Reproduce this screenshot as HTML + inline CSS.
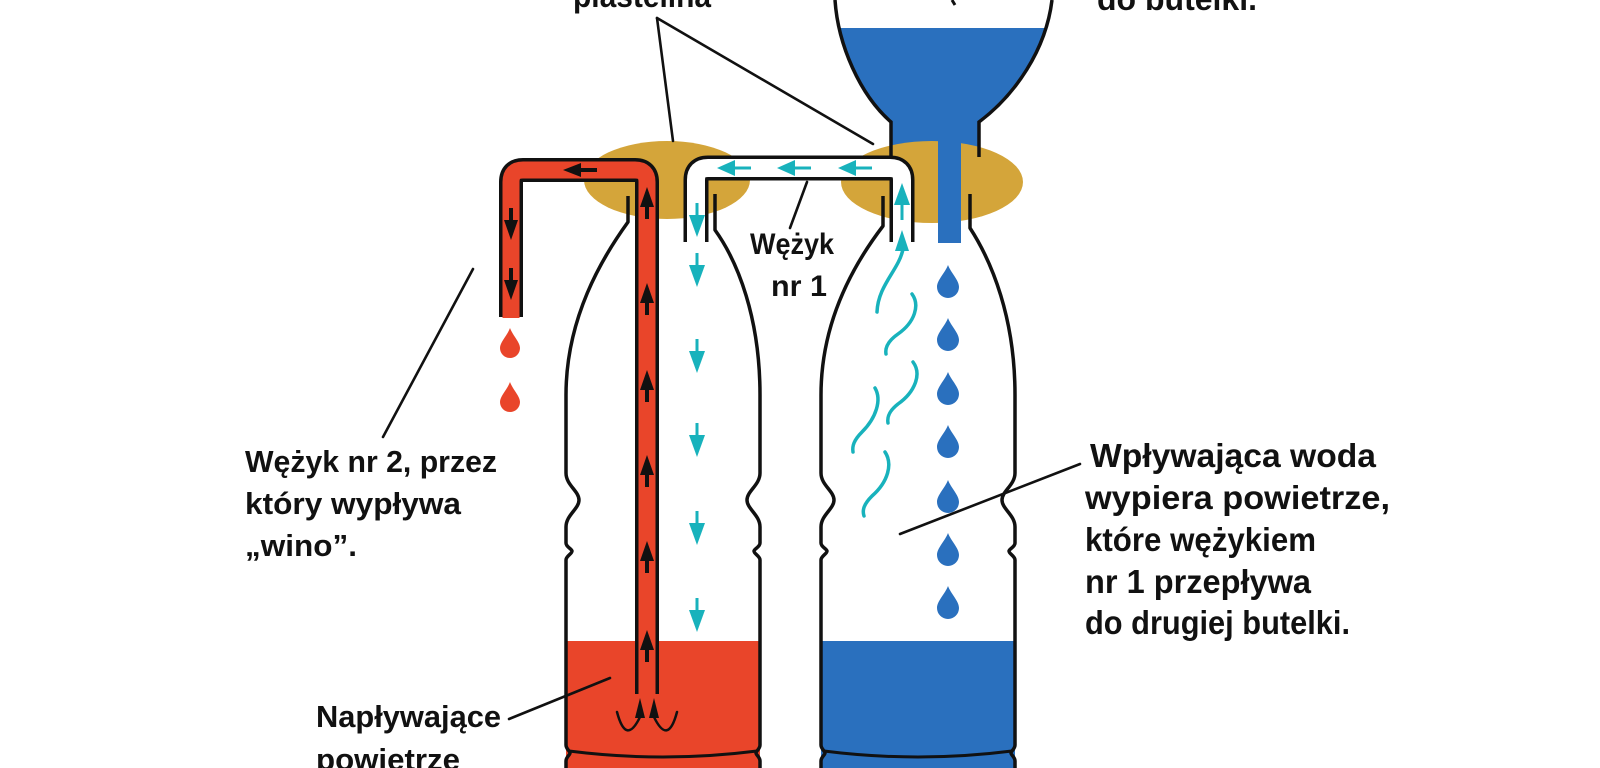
<!DOCTYPE html>
<html>
<head>
<meta charset="utf-8">
<style>
  html,body{margin:0;padding:0;background:#fff;}
  svg{display:block;}
  text{font-family:"Liberation Sans",Arial,sans-serif;font-weight:bold;fill:#111;}
</style>
</head>
<body>
<svg width="1600" height="768" viewBox="0 0 1600 768" xmlns="http://www.w3.org/2000/svg">
  <rect width="1600" height="768" fill="#fff"/>
  <defs>
    <clipPath id="fun">
      <path d="M835,0 C838,45 860,95 891,122 L891,170 L979,170 L979,122 C1015,95 1046,50 1052,0 Z"/>
    </clipPath>
  </defs>

  <!-- funnel water -->
  <rect x="820" y="28" width="240" height="150" fill="#2a70be" clip-path="url(#fun)"/>

  <!-- liquid at bottoms -->
  <rect x="566" y="641" width="194" height="127" fill="#e9452a"/>
  <rect x="821" y="641" width="194" height="127" fill="#2a70be"/>

  <!-- plasticine -->
  <ellipse cx="667" cy="180" rx="83" ry="39" fill="#d4a53a"/>
  <ellipse cx="932" cy="182" rx="91" ry="41" fill="#d4a53a"/>

  <!-- narrow water tube -->
  <rect x="938" y="140" width="23" height="103" fill="#2a70be"/>

  <!-- funnel outlines -->
  <g fill="none" stroke="#111" stroke-width="3.5">
    <path d="M835,0 C838,45 860,95 891,122 L891,157"/>
    <path d="M1052,0 C1046,50 1015,95 979,122 L979,157"/>
  </g>
  <line x1="952" y1="0" x2="955" y2="5" stroke="#111" stroke-width="3"/>

  <!-- bottle outlines -->
  <g fill="none" stroke="#111" stroke-width="3.5" stroke-linejoin="round">
    <path d="M628,196 L628,222 C602,258 566,318 566,395 L566,473 C566,485 579,491 579,500 C579,509 566,515 566,527 L566,543 C566,547 572,549 572,551 C572,554 566,556 566,560 L566,745 C566,749 570,751 570,753 C570,755 566,757 566,761 L566,768"/>
    <path d="M715,194 L715,230 C738,262 760,318 760,395 L760,473 C760,485 747,491 747,500 C747,509 760,515 760,527 L760,543 C760,547 754,549 754,551 C754,554 760,556 760,560 L760,745 C760,749 756,751 756,753 C756,755 760,757 760,761 L760,768"/>
    <path d="M883,196 L883,226 C857,260 821,318 821,395 L821,473 C821,485 834,491 834,500 C834,509 821,515 821,527 L821,543 C821,547 827,549 827,551 C827,554 821,556 821,560 L821,745 C821,749 825,751 825,753 C825,755 821,757 821,761 L821,768"/>
    <path d="M970,194 L970,228 C992,262 1015,318 1015,395 L1015,473 C1015,485 1002,491 1002,500 C1002,509 1015,515 1015,527 L1015,543 C1015,547 1009,549 1009,551 C1009,554 1015,556 1015,560 L1015,745 C1015,749 1011,751 1011,753 C1011,755 1015,757 1015,761 L1015,768"/>
    <path d="M569,751 Q663,763 757,751" stroke-width="3"/>
    <path d="M824,751 Q918,763 1012,751" stroke-width="3"/>
  </g>

  <!-- red tube (nr 2) -->
  <path d="M511,317 L511,182 Q511,170 523,170 L635,170 Q647,170 647,182 L647,694" fill="none" stroke="#111" stroke-width="24"/>
  <path d="M511,318 L511,182 Q511,170 523,170 L635,170 Q647,170 647,182 L647,695" fill="none" stroke="#e9452a" stroke-width="17"/>

  <!-- cyan tube (nr 1) -->
  <path d="M696,242 L696,180 Q696,168 708,168 L890,168 Q902,168 902,180 L902,242" fill="none" stroke="#111" stroke-width="25"/>
  <path d="M696,243 L696,180 Q696,168 708,168 L890,168 Q902,168 902,180 L902,243" fill="none" stroke="#fff" stroke-width="18"/>

  <!-- black arrows in red tube -->
  <g fill="#111">
    <polygon points="563,170 581,163 581,177"/><rect x="579" y="168" width="18" height="4"/>
    <polygon points="511,240 504,220 518,220"/><rect x="509" y="208" width="4" height="14"/>
    <polygon points="511,300 504,280 518,280"/><rect x="509" y="268" width="4" height="14"/>
    <polygon points="647,187 640,207 654,207"/><rect x="645" y="205" width="4" height="14"/>
    <polygon points="647,283 640,303 654,303"/><rect x="645" y="301" width="4" height="14"/>
    <polygon points="647,370 640,390 654,390"/><rect x="645" y="388" width="4" height="14"/>
    <polygon points="647,455 640,475 654,475"/><rect x="645" y="473" width="4" height="14"/>
    <polygon points="647,541 640,561 654,561"/><rect x="645" y="559" width="4" height="14"/>
    <polygon points="647,630 640,650 654,650"/><rect x="645" y="648" width="4" height="14"/>
    <polygon points="640,698 635,718 645,718"/>
    <polygon points="654,698 649,718 659,718"/>
  </g>
  <g fill="none" stroke="#111" stroke-width="2.5" stroke-linecap="round">
    <path d="M617,712 Q626,746 640,717"/>
    <path d="M677,712 Q668,746 654,717"/>
  </g>

  <!-- red drops -->
  <g fill="#e9452a">
    <path d="M510,328 C513,336 520,342 520,348 A10,10 0 0 1 500,348 C500,342 507,336 510,328 Z"/>
    <path d="M510,382 C513,390 520,396 520,402 A10,10 0 0 1 500,402 C500,396 507,390 510,382 Z"/>
  </g>

  <!-- cyan arrows -->
  <g fill="#18b2bc">
    <polygon points="717,168 735,160 735,176"/><rect x="733" y="166.5" width="18" height="3"/>
    <polygon points="777,168 795,160 795,176"/><rect x="793" y="166.5" width="18" height="3"/>
    <polygon points="838,168 856,160 856,176"/><rect x="854" y="166.5" width="18" height="3"/>
    <polygon points="697,237 689,215 705,215"/><rect x="695.5" y="203" width="3" height="14"/>
    <polygon points="697,287 689,265 705,265"/><rect x="695.5" y="253" width="3" height="14"/>
    <polygon points="697,373 689,351 705,351"/><rect x="695.5" y="339" width="3" height="14"/>
    <polygon points="697,457 689,435 705,435"/><rect x="695.5" y="423" width="3" height="14"/>
    <polygon points="697,545 689,523 705,523"/><rect x="695.5" y="511" width="3" height="14"/>
    <polygon points="697,632 689,610 705,610"/><rect x="695.5" y="598" width="3" height="14"/>
    <polygon points="902,183 894,205 910,205"/><rect x="900.5" y="203" width="3" height="17"/>
    <polygon points="902,230 895,251 909,251"/>
  </g>
  <g fill="none" stroke="#18b2bc" stroke-width="3.5" stroke-linecap="round">
    <path d="M903,249 C899,270 878,285 877,312"/>
    <path d="M912,294 C920,305 915,322 898,334 C888,341 885,348 886,354"/>
    <path d="M913,362 C922,374 915,392 898,404 C889,411 887,417 888,423"/>
    <path d="M875,388 C882,400 876,418 862,432 C854,440 852,446 853,452"/>
    <path d="M885,452 C893,464 888,482 872,496 C864,504 862,510 864,516"/>
  </g>

  <!-- blue drops -->
  <g fill="#2a70be">
    <path d="M948,265 C951,273 959,280 959,287 A11,11 0 0 1 937,287 C937,280 945,273 948,265 Z"/>
    <path d="M948,318 C951,326 959,333 959,340 A11,11 0 0 1 937,340 C937,333 945,326 948,318 Z"/>
    <path d="M948,372 C951,380 959,387 959,394 A11,11 0 0 1 937,394 C937,387 945,380 948,372 Z"/>
    <path d="M948,425 C951,433 959,440 959,447 A11,11 0 0 1 937,447 C937,440 945,433 948,425 Z"/>
    <path d="M948,480 C951,488 959,495 959,502 A11,11 0 0 1 937,502 C937,495 945,488 948,480 Z"/>
    <path d="M948,533 C951,541 959,548 959,555 A11,11 0 0 1 937,555 C937,548 945,541 948,533 Z"/>
    <path d="M948,586 C951,594 959,601 959,608 A11,11 0 0 1 937,608 C937,601 945,594 948,586 Z"/>
  </g>

  <!-- connector lines -->
  <g stroke="#111" stroke-width="2.6" stroke-linecap="round" fill="none">
    <line x1="657" y1="18" x2="673" y2="141"/>
    <line x1="657" y1="18" x2="873" y2="144"/>
    <line x1="790" y1="228" x2="807" y2="182"/>
    <line x1="383" y1="437" x2="473" y2="269"/>
    <line x1="1080" y1="464" x2="900" y2="534"/>
    <line x1="509" y1="719" x2="610" y2="678"/>
  </g>

  <!-- labels -->
  <text x="573" y="7" font-size="32" textLength="138" lengthAdjust="spacingAndGlyphs">plastelina</text>
  <text x="1097" y="10" font-size="32" textLength="160" lengthAdjust="spacingAndGlyphs">do butelki.</text>

  <text x="750" y="254" font-size="30" textLength="84" lengthAdjust="spacingAndGlyphs">Wężyk</text>
  <text x="771" y="296" font-size="30" textLength="56" lengthAdjust="spacingAndGlyphs">nr 1</text>

  <text x="245" y="472" font-size="31" textLength="252" lengthAdjust="spacingAndGlyphs">Wężyk nr 2, przez</text>
  <text x="245" y="514" font-size="31" textLength="216" lengthAdjust="spacingAndGlyphs">który wypływa</text>
  <text x="245" y="556" font-size="31" textLength="112" lengthAdjust="spacingAndGlyphs">„wino”.</text>

  <text x="1090" y="467" font-size="33" textLength="286" lengthAdjust="spacingAndGlyphs">Wpływająca woda</text>
  <text x="1085" y="509" font-size="33" textLength="305" lengthAdjust="spacingAndGlyphs">wypiera powietrze,</text>
  <text x="1085" y="551" font-size="33" textLength="231" lengthAdjust="spacingAndGlyphs">które wężykiem</text>
  <text x="1085" y="593" font-size="33" textLength="226" lengthAdjust="spacingAndGlyphs">nr 1 przepływa</text>
  <text x="1085" y="634" font-size="33" textLength="265" lengthAdjust="spacingAndGlyphs">do drugiej butelki.</text>

  <text x="316" y="727" font-size="31" textLength="185" lengthAdjust="spacingAndGlyphs">Napływające</text>
  <text x="316" y="770" font-size="31" textLength="144" lengthAdjust="spacingAndGlyphs">powietrze</text>
</svg>
</body>
</html>
